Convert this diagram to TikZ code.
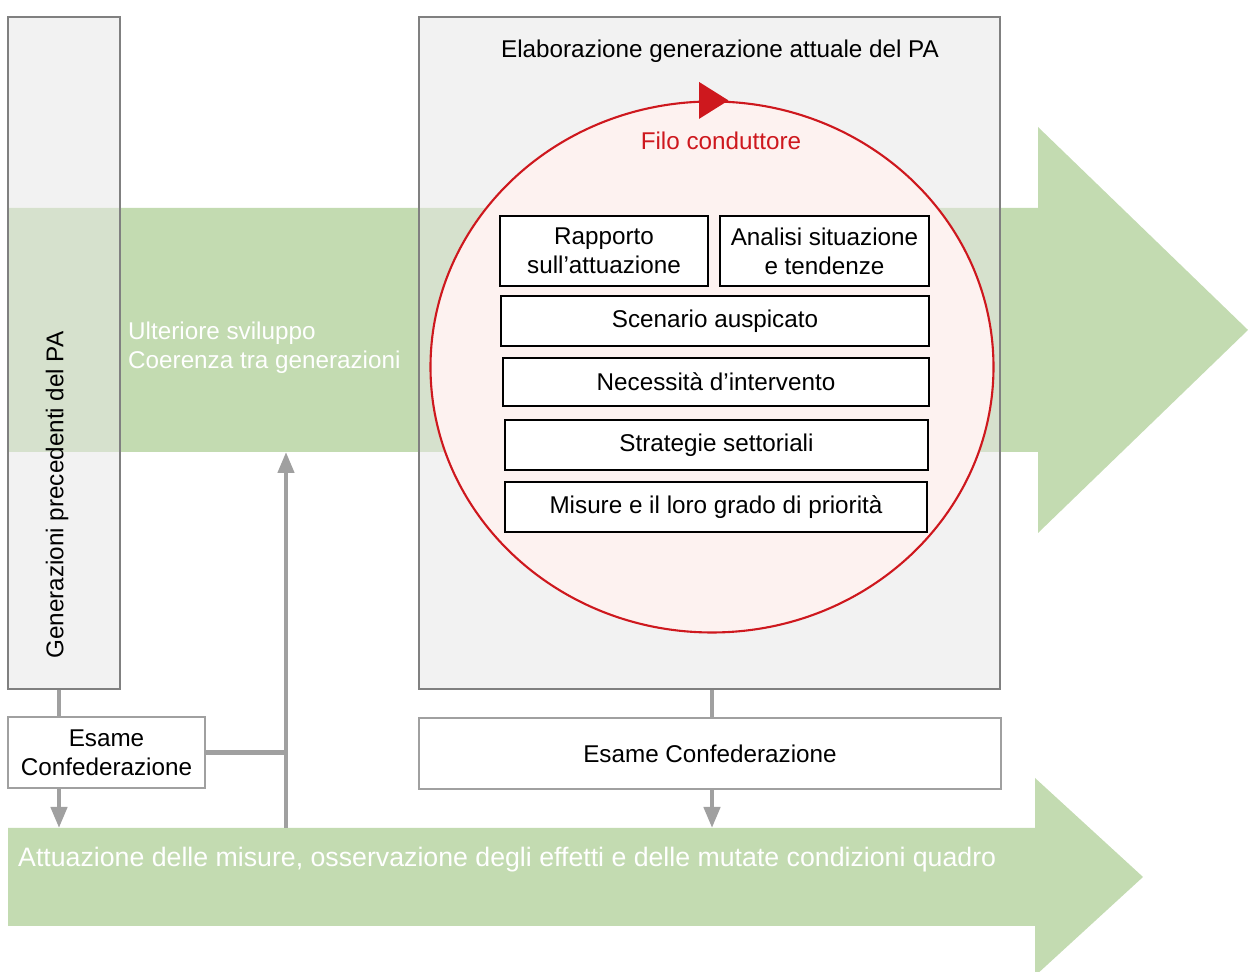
\documentclass[tikz,border=0pt]{standalone}
\usepackage{fontspec}
\setmainfont{Liberation Sans}
\usetikzlibrary{shapes.geometric, arrows.meta}

\definecolor{verde}{RGB}{195,219,177}
\definecolor{grigiofondo}{RGB}{231,231,231}
\definecolor{bordo}{RGB}{128,128,128}
\definecolor{grigiolinea}{RGB}{160,160,160}
\definecolor{rosso}{RGB}{206,24,30}
\definecolor{rosa}{RGB}{253,242,240}

\begin{document}
\begin{tikzpicture}[
    every node/.style={font=\fontsize{13.8}{16.5}\selectfont},
    riquadro/.style={draw=bordo, line width=1pt, fill=grigiofondo, fill opacity=0.53, inner sep=0pt},
    passo/.style={draw=black, line width=1pt, fill=white, align=center},
    esame/.style={draw=grigiolinea, line width=1pt, fill=white, minimum height=1.42cm, align=center},
    linea/.style={draw=grigiolinea, line width=2.5pt},
    freccia/.style={linea, -{Triangle[length=0.42cm, width=0.32cm]}}
  ]

    \useasboundingbox (0,0) rectangle (24.96,19.44);

    % Frecce verdi
    \fill[verde] (0.16,15.28) -- (20.76,15.28) -- (20.76,16.9) -- (24.96,12.84)
        -- (20.76,8.78) -- (20.76,10.4) -- (0.16,10.4) -- cycle;
    \fill[verde] (0.16,2.88) -- (20.7,2.88) -- (20.7,3.88) -- (22.86,1.9)
        -- (20.7,-0.08) -- (20.7,0.92) -- (0.16,0.92) -- cycle;
    \coordinate (fasciabasso) at (0.16,10.4);
    \coordinate (attop) at (0.16,2.88);

    % Riquadri grigi
    \node[riquadro, minimum width=2.24cm, minimum height=13.44cm] (gen) at (1.28,12.38) {};
    \node[riquadro, minimum width=11.62cm, minimum height=13.44cm] (elab) at (14.19,12.38) {};

    % Testi dei riquadri
    \node[rotate=90] (gentesto) at (1.14,9.54) {Generazioni precedenti del PA};
    \node (titolo) at (14.4,18.42) {Elaborazione generazione attuale del PA};
    \node[text=white, align=left, anchor=west] (sviluppo) at (2.44,12.49) {Ulteriore sviluppo\\Coerenza tra generazioni};

    % Filo conduttore
    \node[draw=rosso, line width=1.2pt, fill=rosa, ellipse, minimum width=11.26cm,
        minimum height=10.62cm, inner sep=0pt] (filo) at (14.24,12.1) {};
    \fill[rosso] ([shift={(-0.26,0.37)}]filo.north) -- ([shift={(-0.26,-0.37)}]filo.north)
        -- ([shift={(0.33,0)}]filo.north) -- cycle;
    \node[text=rosso] (filotesto) at (14.42,16.62) {Filo conduttore};

    % Passi
    \node[passo, minimum width=4.16cm, minimum height=1.4cm] (rapporto) at (12.08,14.42) {Rapporto\\sull’attuazione};
    \node[passo, minimum width=4.18cm, minimum height=1.4cm] (analisi) at (16.49,14.42) {Analisi situazione\\e tendenze};
    \node[passo, minimum width=8.56cm, minimum height=1cm] (scenario) at (14.3,13.02) {Scenario auspicato};
    \node[passo, minimum width=8.52cm, minimum height=0.96cm] (necessita) at (14.32,11.8) {Necessità d’intervento};
    \node[passo, minimum width=8.46cm, minimum height=1cm] (strategie) at (14.33,10.54) {Strategie settoriali};
    \node[passo, minimum width=8.44cm, minimum height=1cm] (misure) at (14.32,9.3) {Misure e il loro grado di priorità};

    % Esame
    \node[esame, minimum width=3.94cm] (esame1) at (2.13,4.39) {Esame\\Confederazione};
    \node[esame, minimum width=11.64cm] (esame2) at (14.2,4.37) {Esame Confederazione};

    % Attuazione
    \node[text=white, anchor=west, font=\fontsize{15.2}{18}\selectfont] (attuazione) at (0.24,2.24) {Attuazione delle misure, osservazione degli effetti e delle mutate condizioni quadro};

    % Collegamenti
    \coordinate (sx) at (1.18,0);
    \coordinate (vx) at (5.72,0);
    \draw[linea] (gen.south -| sx) -- (esame1.north -| sx);
    \draw[freccia] (esame1.south -| sx) -- (attop -| sx);
    \draw[linea] (esame1.east) -- (esame1.east -| vx);
    \draw[freccia] (attop -| vx) -- (vx |- fasciabasso);
    \draw[linea] (elab.south -| filo) -- (esame2.north -| filo);
    \draw[freccia] (esame2.south -| filo) -- (attop -| filo);

\end{tikzpicture}
\end{document}
